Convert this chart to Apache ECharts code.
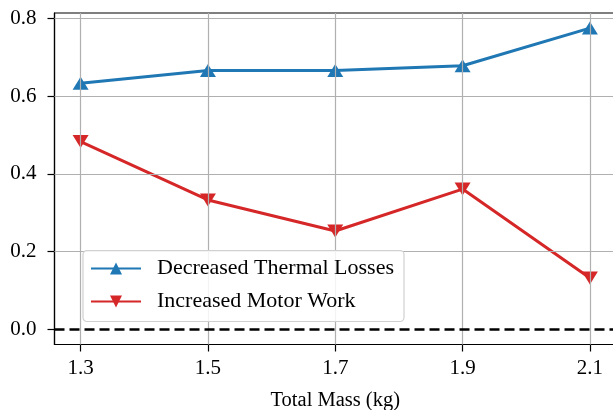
<!DOCTYPE html>
<html>
<head>
<meta charset="utf-8">
<script src="https://cdn.jsdelivr.net/npm/echarts@6/dist/echarts.min.js"></script>
<style>html,body{margin:0;padding:0;background:#fff}#c{width:613px;height:410px}</style>
</head>
<body>
<div id="c"></div>
<script>
const xValues = [1.3, 1.5, 1.7, 1.9, 2.1];
const thermal = [0.633, 0.666, 0.666, 0.678, 0.775];
const motor = [0.483, 0.333, 0.253, 0.361, 0.132];
const xTicks = [1.3, 1.5, 1.7, 1.9, 2.1];
const yTicks = [0.0, 0.2, 0.4, 0.6, 0.8];
const seriesNames = ['Decreased Thermal Losses', 'Increased Motor Work'];
const xName = 'Total Mass (kg)';

const FONT = 'Liberation Serif';
const chart = echarts.init(document.getElementById('c'), null, {renderer: 'canvas'});
const pairs = arr => xValues.map((x, i) => [x, arr[i]]);

chart.setOption({
  animation: false,
  backgroundColor: '#fff',
  grid: {left: 54.5, top: 13, right: -3, bottom: 65.5, show: true, borderColor: '#000', borderWidth: 1.2,
         backgroundColor: 'transparent', outerBoundsMode: 'none', containLabel: false},
  xAxis: {
    type: 'value', min: 1.259, max: 2.141,
    name: xName, nameLocation: 'middle', nameGap: 46,
    nameTextStyle: {fontFamily: FONT, fontSize: 20.5, color: '#000'},
    axisLine: {show: true, onZero: false, lineStyle: {color: '#000', width: 1.2}},
    axisTick: {show: true, length: 7, lineStyle: {color: '#000', width: 1.2}, customValues: xTicks},
    axisLabel: {customValues: xTicks, formatter: v => v.toFixed(1), fontFamily: FONT, fontSize: 21, color: '#000', margin: 13},
    splitLine: {show: false}
  },
  yAxis: {
    type: 'value', min: -0.0388, max: 0.8138,
    axisLine: {show: true, onZero: false, lineStyle: {color: '#000', width: 1.2}},
    axisTick: {show: true, length: 7, lineStyle: {color: '#000', width: 1.2}, customValues: yTicks},
    axisLabel: {customValues: yTicks, formatter: v => v.toFixed(1), fontFamily: FONT, fontSize: 21, color: '#000', margin: 18},
    splitLine: {show: false}
  },
  legend: {
    data: seriesNames,
    orient: 'vertical',
    left: 83, top: 250.5,
    z: 10,
    itemWidth: 50, itemHeight: 15, itemGap: 11,
    padding: [7, 10, 9, 7],
    backgroundColor: 'rgba(255,255,255,0.85)',
    borderColor: '#d0d0d0', borderWidth: 1.2, borderRadius: 4,
    textStyle: {fontFamily: FONT, fontSize: 22, color: '#000', padding: [0, 0, 0, 11]}
  },
  series: [
    {
      name: '_grid', type: 'line', data: pairs(thermal), symbol: 'none', silent: true, z: 1,
      lineStyle: {opacity: 0}, tooltip: {show: false},
      markLine: {
        silent: true, symbol: ['none', 'none'], label: {show: false}, animation: false,
        lineStyle: {color: '#b0b0b0', width: 1.2, type: 'solid'},
        emphasis: {disabled: true},
        data: xTicks.map(v => ({xAxis: v})).concat(yTicks.slice(1).map(v => ({yAxis: v})))
      }
    },
    {
      name: '_zero', type: 'line', data: pairs(thermal), symbol: 'none', silent: true, z: 2,
      lineStyle: {opacity: 0},
      markLine: {
        silent: true, symbol: ['none', 'none'], label: {show: false}, animation: false,
        lineStyle: {color: '#000', width: 2.5, type: [10, 5]},
        emphasis: {disabled: true},
        data: [{yAxis: 0}]
      }
    },
    {
      name: seriesNames[0], type: 'line', data: pairs(thermal), z: 3,
      color: '#1f77b4',
      lineStyle: {color: '#1f77b4', width: 3},
      itemStyle: {color: '#1f77b4'},
      symbol: 'triangle', symbolSize: [16, 13]
    },
    {
      name: seriesNames[1], type: 'line', data: pairs(motor), z: 3,
      color: '#d62728',
      lineStyle: {color: '#d62728', width: 3},
      itemStyle: {color: '#d62728'},
      symbol: 'triangle', symbolRotate: 180, symbolSize: [16, 13]
    }
  ]
});
</script>
</body>
</html>
